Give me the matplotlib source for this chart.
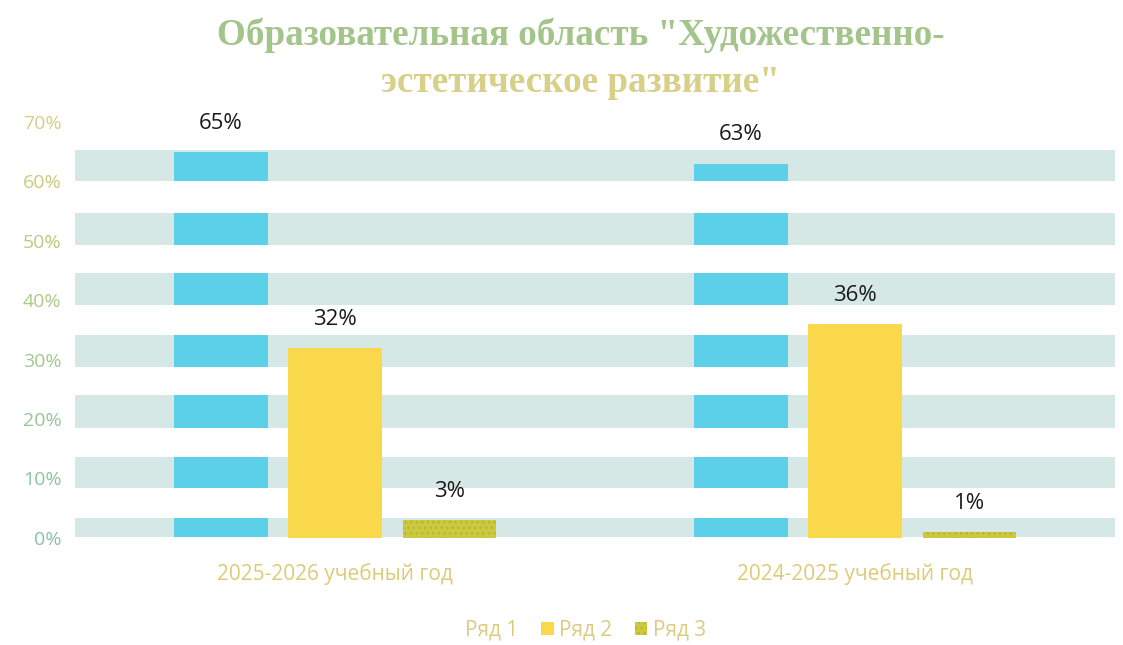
import numpy as np
import matplotlib.pyplot as plt

# data
categories = ['2025-2026 учебный год', '2024-2025 учебный год']
series_names = ['Ряд 1', 'Ряд 2', 'Ряд 3']
row1 = [0.65, 0.63]
row2 = [0.32, 0.36]
row3 = [0.03, 0.01]
value_labels = [['65%', '63%'], ['32%', '36%'], ['3%', '1%']]
yticks = [0, 0.1, 0.2, 0.3, 0.4, 0.5, 0.6, 0.7]
ytick_labels = ['0%', '10%', '20%', '30%', '40%', '50%', '60%', '70%']

# grey print bands (the scan shows them with their own spacing)
bands = [(0.002, 0.034), (0.084, 0.136), (0.185, 0.241), (0.288, 0.342),
         (0.392, 0.446), (0.493, 0.547), (0.600, 0.652)]

plt.rcParams['font.family'] = ['Open Sans', 'DejaVu Sans']

fig = plt.figure(figsize=(11.23, 6.45), dpi=100)
ax = fig.add_axes([0.067, 0.166, 0.926, 0.645])

x = np.arange(len(categories))
w = 0.18
off = 0.22

for lo, hi in bands:
    ax.axhspan(lo, hi, color='#d6e8e6', lw=0, zorder=0)

b1 = ax.bar(x - off, row1, w, color='#5ccfe9', zorder=1, label=series_names[0])

# white gaps between the bands cut through the blue bars
edges = [0] + [v for b in bands for v in b] + [0.70]
for lo, hi in zip(edges[0::2], edges[1::2]):
    ax.axhspan(lo, hi, color='white', lw=0, zorder=2)

b2 = ax.bar(x, row2, w, color='#f9d84c', zorder=3, label=series_names[1])
b3 = ax.bar(x + off, row3, w, color='#cdc93e', hatch='...', edgecolor='#b9b232',
            linewidth=0, zorder=3, label=series_names[2])

for bars, labs in zip([b1, b2, b3], value_labels):
    for rect, lab in zip(bars, labs):
        ax.annotate(lab, (rect.get_x() + rect.get_width() / 2, rect.get_height()),
                    xytext=(0, 13), textcoords='offset points', ha='center', va='bottom',
                    fontsize=16, color='#1a1a1a', zorder=5)

ax.set_xlim(-0.5, 1.5)
ax.set_ylim(0, 0.70)
ax.set_yticks(yticks)
ax.set_yticklabels(ytick_labels, fontsize=14)
tick_cols = ['#86c3a3', '#8cc49d', '#95c697', '#a2c88f', '#aec987', '#bcca80', '#c8cb7c', '#d6cf85']
for t, c in zip(ax.get_yticklabels(), tick_cols):
    t.set_color(c)
ax.set_xticks(x)
ax.set_xticklabels(categories, fontsize=15, color='#dccb78')
ax.tick_params(axis='y', length=0, pad=10)
ax.tick_params(axis='x', length=0, pad=18)
for s in ax.spines.values():
    s.set_visible(False)

leg = ax.legend(loc='center', bbox_to_anchor=(0.482, -0.222), ncol=3, frameon=False,
                fontsize=15, handlelength=0.6, handleheight=0.6, handletextpad=0.25,
                columnspacing=1.1, labelcolor='#dccb80', borderpad=0.2)
leg.legend_handles[0].set_visible(False)

fig.text(0.517, 0.945, 'Образовательная область "Художественно-', ha='center', va='center',
         family='Liberation Serif', fontweight='bold', fontsize=26.7, color='#a3c48a')
fig.text(0.517, 0.872, 'эстетическое развитие"', ha='center', va='center',
         family='Liberation Serif', fontweight='bold', fontsize=26.7, color='#d8cf88')

fig.savefig('out.png', dpi=100)
